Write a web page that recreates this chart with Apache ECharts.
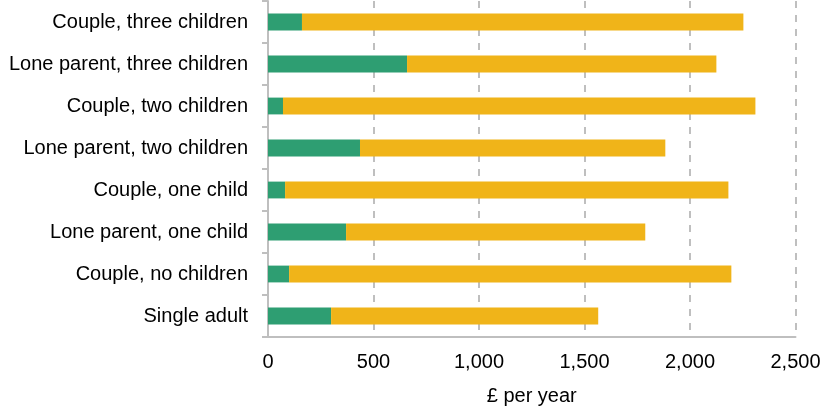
<!DOCTYPE html>
<html>
<head>
<meta charset="utf-8">
<script src="https://cdn.jsdelivr.net/npm/echarts@6/dist/echarts.min.js"></script>
<style>
    html, body { margin: 0; padding: 0; background: #fff; }
    #chart { width: 827px; height: 411px; }
</style>
</head>
<body>
<div id="chart"></div>
<script>
// bottom to top, as ECharts draws a category y axis
var categories = ['Single adult', 'Couple, no children', 'Lone parent, one child', 'Couple, one child',
    'Lone parent, two children', 'Couple, two children', 'Lone parent, three children', 'Couple, three children'];
var greenValues = [299, 100, 370, 81, 436, 71, 659, 161];
var yellowValues = [1266, 2096, 1418, 2101, 1447, 2239, 1466, 2092];
var xTicks = [0, 500, 1000, 1500, 2000, 2500];

var chart = echarts.init(document.getElementById('chart'));

var option = {
    animation: false,
    grid: { left: 268, right: 31.5, top: 1, bottom: 74 },
    xAxis: {
        type: 'value',
        min: xTicks[0],
        max: xTicks[xTicks.length - 1],
        interval: 500,
        name: '£ per year',
        nameLocation: 'middle',
        nameGap: 49,
        nameTextStyle: { fontFamily: 'Liberation Sans', fontSize: 20, color: '#000' },
        axisLine: { show: true, lineStyle: { color: '#bfbfbf', width: 2 } },
        axisTick: { show: false },
        axisLabel: {
            margin: 15,
            fontFamily: 'Liberation Sans',
            fontSize: 20,
            color: '#000',
            formatter: function (v) { return v.toLocaleString('en-GB'); }
        },
        splitLine: { show: true, lineStyle: { color: '#bfbfbf', width: 2, type: [7, 7] } }
    },
    yAxis: {
        type: 'category',
        data: categories,
        axisLine: { show: true, lineStyle: { color: '#bfbfbf', width: 2 } },
        axisTick: { show: true, length: 6, lineStyle: { color: '#bfbfbf', width: 2 } },
        axisLabel: { margin: 20, fontFamily: 'Liberation Sans', fontSize: 20, color: '#000' },
        splitLine: { show: false }
    },
    series: [
        {
            type: 'bar',
            stack: 'total',
            data: greenValues,
            barWidth: '40%',
            itemStyle: { color: '#2e9e72' }
        },
        {
            type: 'bar',
            stack: 'total',
            data: yellowValues,
            barWidth: '40%',
            itemStyle: { color: '#f0b419' }
        }
    ]
};
chart.setOption(option);
</script>
</body>
</html>
